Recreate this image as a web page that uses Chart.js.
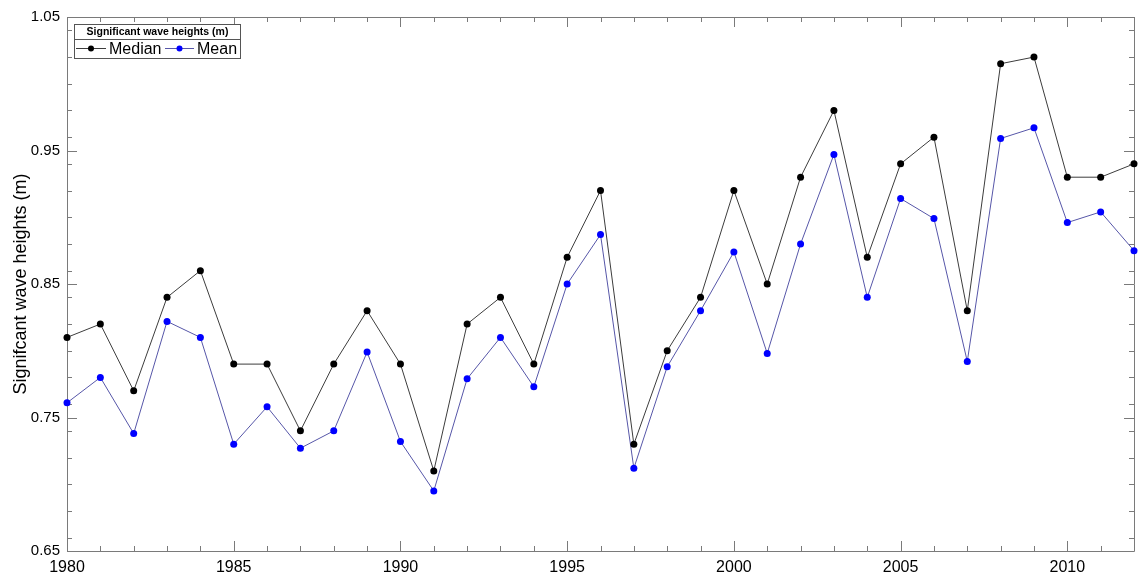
<!DOCTYPE html>
<html>
<head>
<meta charset="utf-8">
<title>Significant wave heights</title>
<script src="https://cdn.jsdelivr.net/npm/chart.js@4.4.0/dist/chart.umd.min.js"></script>
<style>
    html, body { margin: 0; padding: 0; background: #fff; }
    #wrap { width: 1144px; height: 574px; }
</style>
</head>
<body>
<div id="wrap"><canvas id="waveChart" width="1144" height="574"></canvas></div>
<script>
// data
let years = [1980, 1981, 1982, 1983, 1984, 1985, 1986, 1987, 1988, 1989, 1990,
    1991, 1992, 1993, 1994, 1995, 1996, 1997, 1998, 1999, 2000,
    2001, 2002, 2003, 2004, 2005, 2006, 2007, 2008, 2009, 2010, 2011, 2012];
let medianValues = [0.810, 0.820, 0.770, 0.840, 0.860, 0.790, 0.790, 0.740, 0.790, 0.830, 0.790,
    0.710, 0.820, 0.840, 0.790, 0.870, 0.920, 0.730, 0.800, 0.840, 0.920,
    0.850, 0.930, 0.980, 0.870, 0.940, 0.960, 0.830, 1.015, 1.020, 0.930, 0.930, 0.940];
let meanValues = [0.761, 0.780, 0.738, 0.822, 0.810, 0.730, 0.758, 0.727, 0.740, 0.799, 0.732,
    0.695, 0.779, 0.810, 0.773, 0.850, 0.887, 0.712, 0.788, 0.830, 0.874,
    0.798, 0.880, 0.947, 0.840, 0.914, 0.899, 0.792, 0.959, 0.967, 0.896, 0.904, 0.875];
let xTickLabels = [1980, 1985, 1990, 1995, 2000, 2005, 2010];
let yTickLabels = [0.65, 0.75, 0.85, 0.95, 1.05];
let yMinorTicks = [0.66, 0.68, 0.70, 0.72, 0.74, 0.76, 0.78, 0.80, 0.82, 0.84, 0.86, 0.88,
    0.90, 0.92, 0.94, 0.96, 0.98, 1.00, 1.02, 1.04];
let seriesNames = ["Median", "Mean"];
let legendTitle = "Significant wave heights (m)";
let yTitle = "Signifcant wave heights (m)";

const FRAME = "#7a7a7a";

// box, inside tick marks on all four sides
const frameTicks = {
    id: "frameTicks",
    beforeDatasetsDraw(chart) {
        let ctx = chart.ctx;
        let a = chart.chartArea;
        let xs = chart.scales.x;
        let ys = chart.scales.y;
        ctx.save();
        ctx.strokeStyle = FRAME;
        ctx.lineWidth = 1;
        ctx.beginPath();
        ctx.rect(Math.round(a.left) + 0.5, Math.round(a.top) + 0.5,
            Math.round(a.right - a.left), Math.round(a.bottom - a.top));
        ctx.stroke();

        ctx.beginPath();
        years.forEach(yr => {
            let px = Math.round(xs.getPixelForValue(yr)) + 0.5;
            let len = yr % 5 === 0 ? 10 : 5;
            ctx.moveTo(px, a.bottom);
            ctx.lineTo(px, a.bottom - len);
            ctx.moveTo(px, a.top);
            ctx.lineTo(px, a.top + len);
        });
        yMinorTicks.concat(yTickLabels).forEach(v => {
            let py = Math.round(ys.getPixelForValue(v)) + 0.5;
            let len = yTickLabels.includes(v) ? 10 : 5;
            ctx.moveTo(a.left, py);
            ctx.lineTo(a.left + len, py);
            ctx.moveTo(a.right, py);
            ctx.lineTo(a.right - len, py);
        });
        ctx.stroke();
        ctx.restore();
    }
};

// legend box in the upper left corner
const boxLegend = {
    id: "boxLegend",
    afterDraw(chart) {
        let ctx = chart.ctx;
        let left = 74.5, top = 24.5, w = 166, h = 34;
        ctx.save();
        ctx.fillStyle = "#fff";
        ctx.fillRect(left, top, w, h);
        ctx.strokeStyle = "#555";
        ctx.lineWidth = 1;
        ctx.strokeRect(left, top, w, h);
        ctx.beginPath();
        ctx.moveTo(left, 39.5);
        ctx.lineTo(left + w, 39.5);
        ctx.stroke();

        ctx.fillStyle = "#000";
        ctx.font = "bold 10.5px 'Liberation Sans', Arial, sans-serif";
        ctx.textAlign = "center";
        ctx.textBaseline = "middle";
        ctx.fillText(legendTitle, left + w / 2, 32);

        let rowY = 48.5;
        let entries = [
            { x0: 76, x1: 106, label: seriesNames[0], ds: chart.data.datasets[0] },
            { x0: 165, x1: 194, label: seriesNames[1], ds: chart.data.datasets[1] }
        ];
        ctx.font = "16px 'Liberation Sans', Arial, sans-serif";
        ctx.textAlign = "left";
        entries.forEach(e => {
            ctx.strokeStyle = e.ds.borderColor;
            ctx.beginPath();
            ctx.moveTo(e.x0, rowY);
            ctx.lineTo(e.x1, rowY);
            ctx.stroke();
            ctx.fillStyle = e.ds.pointBackgroundColor;
            ctx.beginPath();
            ctx.arc((e.x0 + e.x1) / 2, rowY, 3, 0, Math.PI * 2);
            ctx.fill();
            ctx.fillStyle = "#000";
            ctx.fillText(e.label, e.x1 + 3, rowY + 1);
        });
        ctx.restore();
    }
};

let ctx = document.getElementById("waveChart").getContext("2d");

new Chart(ctx, {
    type: "line",
    data: {
        datasets: [
            {
                label: seriesNames[0],
                data: years.map((yr, i) => ({ x: yr, y: medianValues[i] })),
                borderColor: "#3c3c3c",
                borderWidth: 1,
                pointBackgroundColor: "#000000",
                pointBorderWidth: 0,
                pointRadius: 3.5,
                tension: 0,
                clip: false
            },
            {
                label: seriesNames[1],
                data: years.map((yr, i) => ({ x: yr, y: meanValues[i] })),
                borderColor: "#5656a8",
                borderWidth: 1,
                pointBackgroundColor: "#0000ff",
                pointBorderWidth: 0,
                pointRadius: 3.5,
                tension: 0,
                clip: false
            }
        ]
    },
    options: {
        responsive: false,
        animation: false,
        layout: { padding: { top: 17, right: 10, left: 0, bottom: 0 } },
        plugins: {
            legend: { display: false },
            tooltip: { enabled: false }
        },
        scales: {
            x: {
                type: "linear",
                min: 1980,
                max: 2012,
                grid: { display: false },
                border: { display: false },
                afterBuildTicks: scale => { scale.ticks = xTickLabels.map(v => ({ value: v })); },
                afterFit: scale => { scale.height = 23; },
                ticks: {
                    autoSkip: false,
                    maxRotation: 0,
                    padding: -1,
                    color: "#000",
                    font: { family: "'Liberation Sans', Arial, sans-serif", size: 16 },
                    callback: v => String(v)
                }
            },
            y: {
                min: 0.65,
                max: 1.05,
                grid: { display: false },
                border: { display: false },
                afterBuildTicks: scale => { scale.ticks = yTickLabels.map(v => ({ value: v })); },
                afterFit: scale => { scale.width = 67; },
                ticks: {
                    autoSkip: false,
                    padding: -1,
                    color: "#000",
                    font: { family: "'Liberation Sans', Arial, sans-serif", size: 15 },
                    callback: v => Number(v).toFixed(2)
                },
                title: {
                    display: true,
                    text: yTitle,
                    color: "#000",
                    font: { family: "'Liberation Sans', Arial, sans-serif", size: 18 },
                    padding: { top: 10, bottom: 0 }
                }
            }
        }
    },
    plugins: [frameTicks, boxLegend]
});
</script>
</body>
</html>
